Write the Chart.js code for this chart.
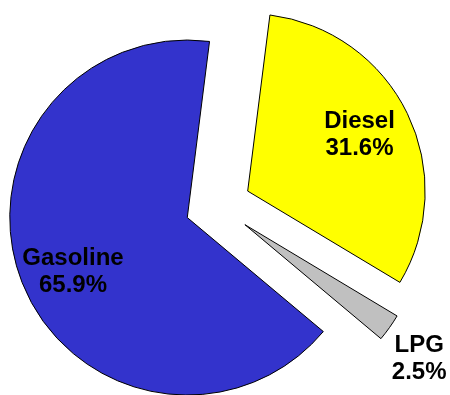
<!DOCTYPE html>
<html>
<head>
<meta charset="utf-8">
<script src="https://cdn.jsdelivr.net/npm/chart.js@4"></script>
<style>
  html, body { margin: 0; padding: 0; background: #ffffff; }
  #wrap { width: 450px; height: 395px; position: relative; }
</style>
</head>
<body>
<div id="wrap"><canvas id="fuelPie"></canvas></div>
<script>
// Fuel shares, listed clockwise from the top of the pie
const fuels = ['Diesel', 'LPG', 'Gasoline'];
const shares = [31.6, 2.5, 65.9];

const fuelColors = ['#FFFF00', '#C0C0C0', '#3333CC'];

// Every slice is pulled out of the centre by the same distance (px)
const EXPLODE_PX = 33;

// Draw each arc shifted outward along its own bisector
const explodeSlices = {
  id: 'explodeSlices',
  beforeDatasetDraw(chart, args) {
    const ctx = chart.ctx;
    args.meta.data.forEach(arc => {
      const mid = (arc.startAngle + arc.endAngle) / 2;
      ctx.save();
      ctx.translate(Math.cos(mid) * EXPLODE_PX, Math.sin(mid) * EXPLODE_PX);
      arc.draw(ctx, chart.chartArea);
      ctx.restore();
    });
    return false;
  }
};

// Name and percentage written on (or next to) each slice
const sliceLabels = {
  id: 'sliceLabels',
  afterDatasetsDraw(chart, args, opts) {
    const ctx = chart.ctx;
    const meta = chart.getDatasetMeta(0);
    ctx.save();
    ctx.font = opts.font;
    ctx.fillStyle = opts.color;
    ctx.textAlign = 'center';
    ctx.textBaseline = 'alphabetic';
    meta.data.forEach((arc, i) => {
      const mid = (arc.startAngle + arc.endAngle) / 2;
      const dist = EXPLODE_PX + arc.outerRadius * opts.radial[i];
      const cx = arc.x + Math.cos(mid) * dist + opts.nudge[i][0];
      const cy = arc.y + Math.sin(mid) * dist + opts.nudge[i][1];
      ctx.fillText(fuels[i], cx, cy - 5);
      ctx.fillText(shares[i].toFixed(1) + '%', cx, cy + 22);
    });
    ctx.restore();
  }
};

new Chart(document.getElementById('fuelPie'), {
  type: 'pie',
  data: {
    labels: fuels,
    datasets: [{
      data: shares,
      backgroundColor: fuelColors,
      borderColor: '#000000',
      borderWidth: 1,
      radius: 177.5,
      offset: 0,
      hoverOffset: 0
    }]
  },
  options: {
    responsive: true,
    maintainAspectRatio: false,
    animation: false,
    events: [],
    rotation: 7.2,
    layout: { padding: { left: 0, right: 14, top: 16, bottom: 0 } },
    plugins: {
      legend: { display: false },
      tooltip: { enabled: false },
      sliceLabels: {
        font: 'bold 24px "Liberation Sans", Arial, sans-serif',
        color: '#000000',
        radial: [0.71, 1.23, 0.71],
        nudge: [[-1.5, -3], [-3.5, 6], [3, 6.5]]
      }
    }
  },
  plugins: [explodeSlices, sliceLabels]
});
</script>
</body>
</html>
